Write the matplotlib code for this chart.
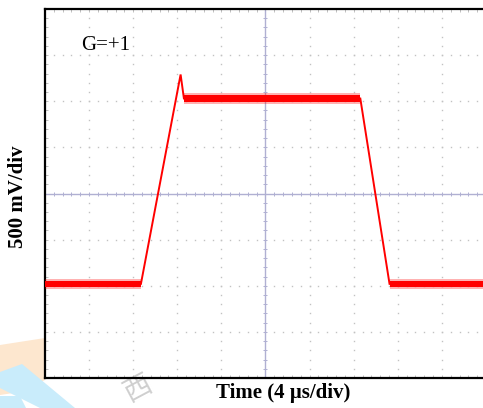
import numpy as np
import matplotlib
matplotlib.use("Agg")
import matplotlib.pyplot as plt
from matplotlib.patches import Polygon

# Oscilloscope settings (per division)
time_per_div_us = 4.0
volt_per_div = 0.5
n_xdiv, n_ydiv = 10, 8

# Step response trace, breakpoints in µs and V
trace_t = [-20.0, -11.3, -7.7, -7.4, 8.6, 11.25, 20.0]
trace_v = [-0.98, -0.98, 1.29, 1.03, 1.03, -0.98, -0.98]
# Flat (noisy) sections of the trace, as index ranges into the breakpoints
flat_sections = [(0, 1), (3, 4), (5, 6)]
noise_halfwidth_v = 0.034

gain_label = "G=+1"
xlabel = "Time (4 µs/div)"
ylabel = "500 mV/div"
watermark = "西"

W, H, DPI = 483, 408, 100
fig = plt.figure(figsize=(W / DPI, H / DPI), dpi=DPI)

# faint watermark shapes behind the axes
wm = fig.add_axes([0, 0, 1, 1], zorder=0)
wm.set_xlim(0, W); wm.set_ylim(H, 0); wm.axis("off")
wm.add_patch(Polygon([[0, 345], [45, 338], [45, 380], [20, 392], [0, 395]],
                     closed=True, color="#fde7cf", lw=0))
wm.add_patch(Polygon([[0, 372], [22, 364], [75, 408], [40, 408], [0, 388]],
                     closed=True, color="#c9ecfb", lw=0))
wm.add_patch(Polygon([[0, 396], [20, 396], [26, 408], [0, 408]],
                     closed=True, color="#c9ecfb", lw=0))

left, right, top, bottom = 45, 486, 9, 378
ax = fig.add_axes([left / W, 1 - bottom / H, (right - left) / W, (bottom - top) / H], zorder=1)
ax.patch.set_alpha(0)

xmax = n_xdiv / 2 * time_per_div_us
ymax = n_ydiv / 2 * volt_per_div
ax.set_xlim(-xmax, xmax)
ax.set_ylim(-ymax, ymax)

# dotted graticule: dots every 1/5 division
grid_col = "#c2c2c2"
xs_fine = np.arange(-xmax, xmax + 1e-9, time_per_div_us / 5)
ys_fine = np.arange(-ymax, ymax + 1e-9, volt_per_div / 5)
for gx in np.arange(-xmax + time_per_div_us, xmax, time_per_div_us):
    if abs(gx) < 1e-9:
        continue
    ax.plot(np.full_like(ys_fine, gx), ys_fine, ls="none", marker="s",
            ms=1.0, mec="none", mfc=grid_col, zorder=1)
for gy in np.arange(-ymax + volt_per_div, ymax, volt_per_div):
    if abs(gy) < 1e-9:
        continue
    ax.plot(xs_fine, np.full_like(xs_fine, gy), ls="none", marker="s",
            ms=1.0, mec="none", mfc=grid_col, zorder=1)

# centre axes with fine tick marks
axis_col = "#b0b0d2"
ax.axhline(0, color=axis_col, lw=1.0, zorder=2)
ax.axvline(0, color=axis_col, lw=1.0, zorder=2)
ax.plot(xs_fine, np.zeros_like(xs_fine), ls="none", marker="|", ms=3.5,
        mew=0.7, color=axis_col, zorder=2)
ax.plot(np.zeros_like(ys_fine), ys_fine, ls="none", marker="_", ms=3.5,
        mew=0.7, color=axis_col, zorder=2)

# edge ticks
ax.set_xticks(xs_fine)
ax.set_yticks(ys_fine)
ax.tick_params(direction="in", length=2.2, width=0.6, color="#b5b5b5",
               labelbottom=False, labelleft=False, top=True, right=True)

# trace
red = "#ff0000"
ax.plot(trace_t, trace_v, color=red, lw=1.4, zorder=4, solid_joinstyle="miter")
t_arr = np.array(trace_t); v_arr = np.array(trace_v)
for i0, i1 in flat_sections:
    seg_t = t_arr[i0:i1 + 1]; seg_v = v_arr[i0:i1 + 1]
    ax.fill_between(seg_t, seg_v - noise_halfwidth_v, seg_v + noise_halfwidth_v,
                    color=red, lw=0, zorder=4)
    ax.fill_between(seg_t, seg_v - 1.6 * noise_halfwidth_v, seg_v + 1.6 * noise_halfwidth_v,
                    color=red, alpha=0.3, lw=0, zorder=4)

for s in ax.spines.values():
    s.set_color("black")
    s.set_linewidth(1.6)

serif = ["Liberation Serif", "DejaVu Serif"]
fig.text(81 / W, 1 - 46 / H, gain_label, family=serif, fontsize=15,
         ha="left", va="center")
fig.text(283 / W, 1 - 393 / H, xlabel, family=serif, fontsize=15,
         fontweight="bold", ha="center", va="center")
fig.text(18 / W, 1 - 197 / H, ylabel, family=serif, fontsize=15,
         fontweight="bold", ha="center", va="center", rotation=90)

# grey watermark glyph at the bottom
fig.text(138 / W, 1 - 389 / H, watermark, family=["Noto Sans CJK SC", "DejaVu Sans"],
         fontsize=20, color="#cfcfcf", rotation=28, ha="center", va="center",
         zorder=0)

fig.savefig("out.png", dpi=DPI)
